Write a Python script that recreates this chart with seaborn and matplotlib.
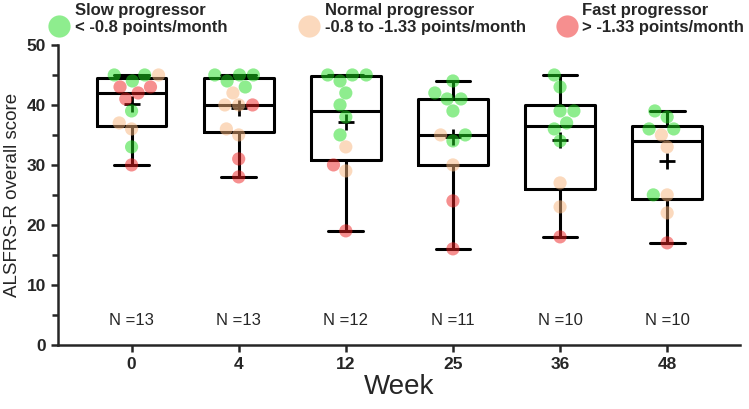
import numpy as np
import pandas as pd
import seaborn as sns
import matplotlib.pyplot as plt
from matplotlib import cbook
from matplotlib.lines import Line2D
from matplotlib.ticker import MultipleLocator

# DATA
weeks = ["0", "4", "12", "25", "36", "48"]
slow = [[45, 45, 44, 39, 33],
        [45, 45, 45, 44, 43],
        [45, 45, 45, 44, 42, 40, 38, 35],
        [44, 42, 41, 41, 39, 35, 34],
        [45, 43, 39, 39, 37, 36, 34],
        [39, 38, 36, 36, 25]]
normal = [[45, 37, 36],
          [42, 40, 40, 36, 35],
          [33, 29],
          [35, 30],
          [27, 23],
          [35, 33, 25, 22]]
fast = [[43, 43, 42, 41, 30],
        [40, 31, 28],
        [30, 19],
        [24, 16],
        [18],
        [17]]
group_names = ["Slow progressor", "Normal progressor", "Fast progressor"]
group_rates = ["< -0.8 points/month", "-0.8 to -1.33 points/month", "> -1.33 points/month"]
group_colors = ["#1fdc1f", "#f8b57c", "#ee2020"]

# LONG TABLE
rows = []
for g, vals in zip(group_names, [slow, normal, fast]):
    for w, scores in zip(weeks, vals):
        for s in scores:
            rows.append({"Week": w, "Score": s, "Group": g})
df = pd.DataFrame(rows)

# STYLE
sns.set_style("ticks")
plt.rcParams["font.family"] = ["Liberation Sans", "DejaVu Sans"]

fig, ax = plt.subplots(figsize=(7.49, 4.09), dpi=100)
fig.subplots_adjust(left=0.077, right=0.988, top=0.89, bottom=0.157)

# POINTS
sns.swarmplot(data=df, x="Week", y="Score", order=weeks, hue="Group", hue_order=group_names,
              palette=group_colors, size=9.5, alpha=0.5, linewidth=0, legend=False,
              zorder=3, ax=ax)

# BOXES: quartiles the Prism way (n+1 percentiles), whiskers min to max, mean as +
stats = []
for w in weeks:
    v = df.loc[df["Week"] == w, "Score"].to_numpy()
    st = cbook.boxplot_stats(v, whis=(0, 100))[0]
    st["q1"], st["q3"] = np.percentile(v, [25, 75], method="weibull")
    stats.append(st)
line = dict(color="black", linewidth=2.2)
ax.bxp(stats, positions=range(len(weeks)), widths=0.65, showmeans=True, showfliers=False,
       manage_ticks=False, boxprops=line, whiskerprops=line, capprops=line,
       medianprops=line,
       meanprops=dict(marker="+", markeredgecolor="black", markersize=12, markeredgewidth=2))

# N LABELS
for i, w in enumerate(weeks):
    n = (df["Week"] == w).sum()
    ax.text(i, 4, f"N ={n}", ha="center", va="center", fontsize=12)

# AXES
ax.set_ylim(0, 50)
ax.set_xlim(-0.69, 5.68)
ax.yaxis.set_major_locator(MultipleLocator(10))
ax.yaxis.set_minor_locator(MultipleLocator(5))
ax.tick_params(axis="both", which="major", length=5, width=1.8, labelsize=12.5)
ax.tick_params(axis="y", which="minor", length=4, width=1.8)
for lab in ax.get_xticklabels() + ax.get_yticklabels():
    lab.set_fontweight("bold")
for sp in ["left", "bottom"]:
    ax.spines[sp].set_linewidth(1.8)
sns.despine(ax=ax)
ax.set_xlabel("Week", fontsize=20, labelpad=2)
ax.set_ylabel("ALSFRS-R overall score", fontsize=13.5)

# LEGEND (three separate entries across the top, name above the rate)
fs = 12
for name, rate, col, xa in zip(group_names, group_rates, group_colors, [0.064, 0.398, 0.742]):
    h = Line2D([], [], marker="o", ls="", markersize=16, markerfacecolor=col,
               markeredgewidth=0, alpha=0.5)
    fig.legend(handles=[h], labels=[rate], loc="center left", bbox_to_anchor=(xa, 0.933),
               frameon=False, handlelength=1.3, handletextpad=0.3, borderpad=0,
               borderaxespad=0, prop=dict(weight="bold", size=fs))
    fig.text(xa + 1.6 * fs / 72 * 100 / 749, 0.975, name, ha="left", va="center",
             fontsize=fs, fontweight="bold")

plt.savefig("out.png", dpi=100)
